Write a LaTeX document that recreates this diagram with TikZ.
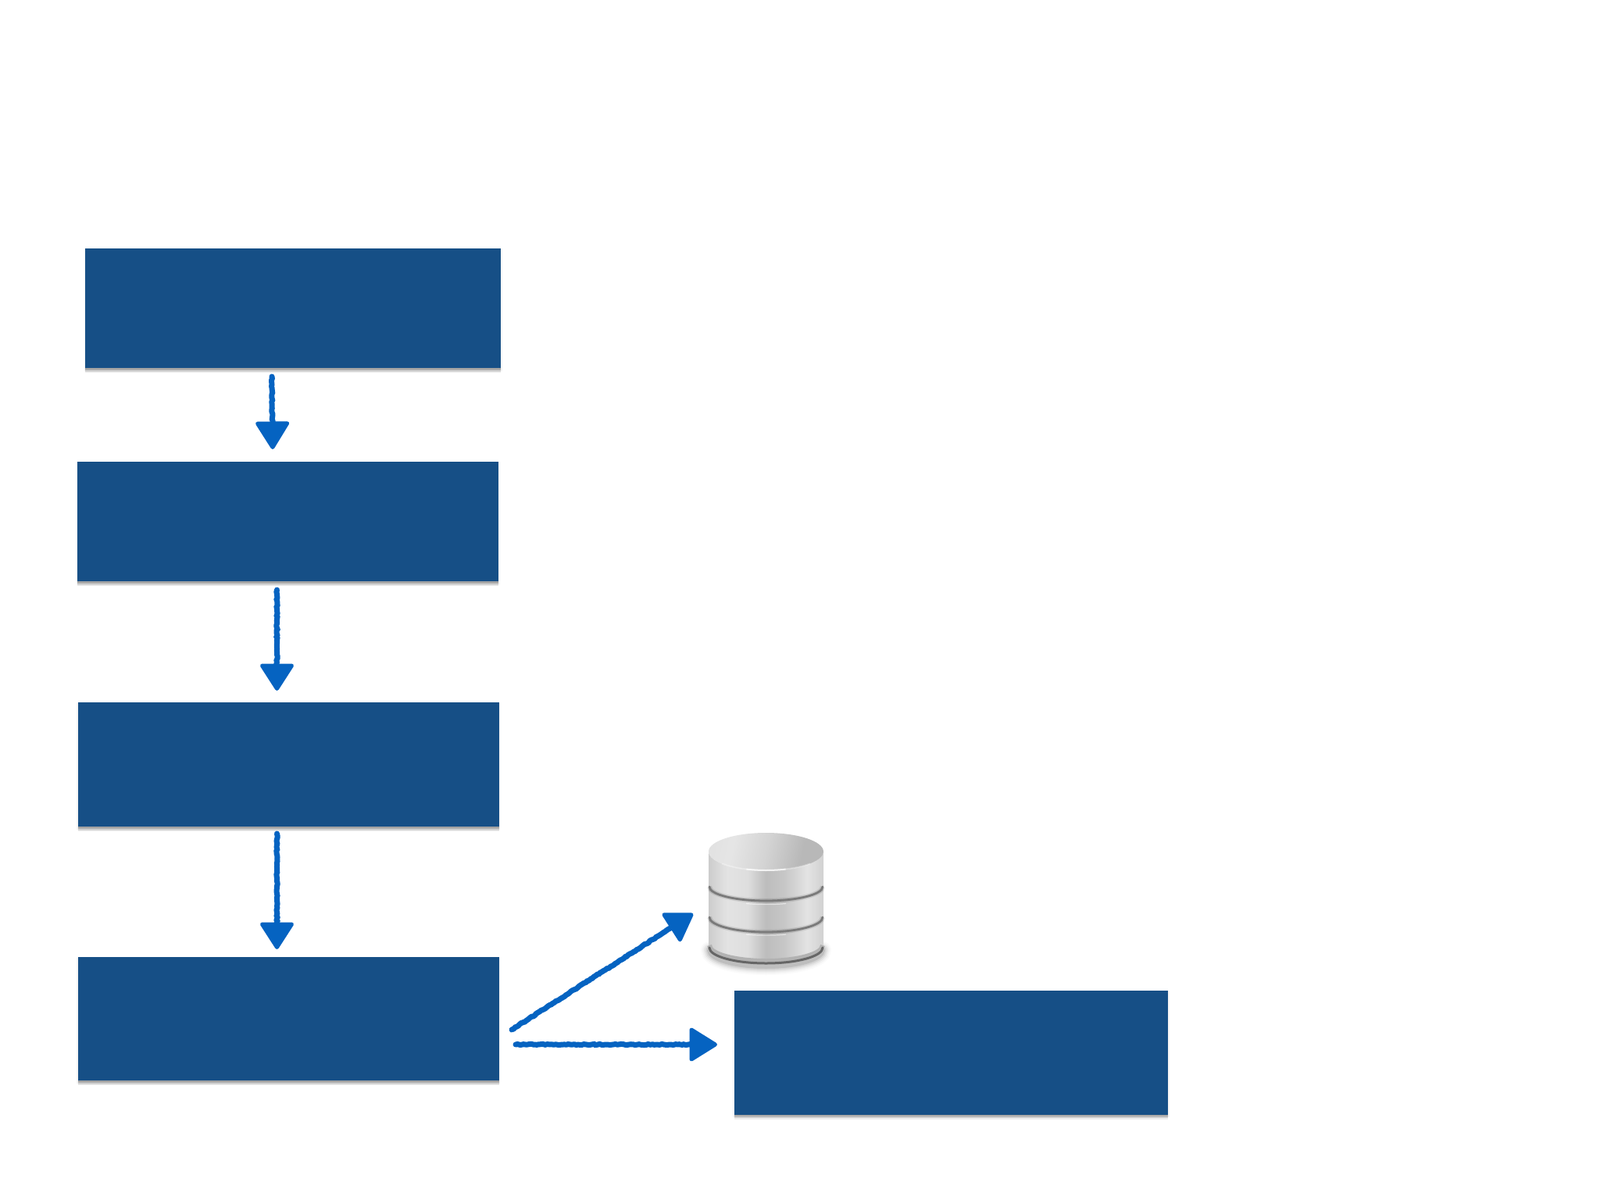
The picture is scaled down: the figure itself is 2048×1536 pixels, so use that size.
\documentclass[tikz,border=0pt]{standalone}
\usetikzlibrary{calc,decorations.pathmorphing,decorations.markings}
\definecolor{boxblue}{HTML}{164F86}
\definecolor{inkblue}{HTML}{0563C1}
\pgfdeclarehorizontalshading{cylbody}{100bp}{
  color(0bp)=(black!20); color(25bp)=(black!20); color(33bp)=(black!11); color(42bp)=(black!13);
  color(50bp)=(black!26); color(58bp)=(black!22); color(68bp)=(black!11); color(75bp)=(black!18); color(100bp)=(black!18)}
\pgfdeclarehorizontalshading{cyltop}{100bp}{
  color(0bp)=(black!15); color(33bp)=(black!10); color(50bp)=(black!17); color(68bp)=(black!28); color(100bp)=(black!28)}
\tikzset{
  x=1pt,y=-1pt,
  flowbox/.style={rectangle,fill=boxblue,draw=none,inner sep=0pt,outer sep=0pt,
    preaction={draw=black,draw opacity=.04,line width=3pt,transform canvas={yshift=-2pt}},
    preaction={fill=black,fill opacity=.07,transform canvas={yshift=-6pt}},
    preaction={fill=black,fill opacity=.09,transform canvas={yshift=-4.5pt}},
    preaction={fill=black,fill opacity=.11,transform canvas={yshift=-3pt}},
    preaction={fill=black,fill opacity=.13,transform canvas={yshift=-1.5pt}}},
  shaft/.style={draw=inkblue,line width=7pt,line cap=round,decorate,
    decoration={random steps,segment length=2.5pt,amplitude=.6pt}},
  headfill/.style={fill=inkblue,draw=inkblue,line width=5pt,line join=round},
  headmark/.style={decorate,decoration={markings,mark=at position 1 with {
    \fill[headfill] (-3.5pt,0pt) -- (-#1,-19pt) -- (-#1,19pt) -- cycle;}}},
  band/.style={draw=#1,line cap=round}
}
\newcommand{\sketcharrow}[3]{%
  \draw[shaft] (#1) -- ($(#2)!14pt!(#1)$);
  \path[headmark=#3] (#1) -- (#2);}
\begin{document}
\begin{tikzpicture}
\useasboundingbox (0,0) rectangle (2048,1536);
\fill[white] (0,0) rectangle (2048,1536);
% boxes
\node[flowbox,minimum width=532pt,minimum height=153.5pt] (b1) at (375,394.5) {};
\node[flowbox,minimum width=539pt,minimum height=153.5pt] (b2) at (368.5,667.5) {};
\node[flowbox,minimum width=539pt,minimum height=159pt] (b3) at (369,978.5) {};
\node[flowbox,minimum width=539pt,minimum height=158pt] (b4) at (369,1304) {};
\node[flowbox,minimum width=555.5pt,minimum height=159pt] (b5) at (1217.25,1347) {};
% database cylinder
\coordinate (db) at (980.5,1090);
\begin{scope}
  \foreach \w/\o in {22/.02,18/.03,14/.05,10/.07,6/.10}{
    \draw[draw=black,draw opacity=\o,line width=\w pt,line cap=round] (908,1216) arc[start angle=180,end angle=0,x radius=72.5,y radius=21];
  }
  \shade[shading=cylbody] (907,1090) -- (907,1212) arc[start angle=180,end angle=0,x radius=73.5,y radius=20]
     -- (1054,1090) arc[start angle=0,end angle=180,x radius=73.5,y radius=24] -- cycle;
  \draw[draw=black!30,line width=6pt] (908,1210) arc[start angle=180,end angle=0,x radius=72.5,y radius=20];
  \draw[draw=black!60,line width=3pt,line cap=round] (908,1213) arc[start angle=180,end angle=0,x radius=72.5,y radius=20];
  \shade[shading=cyltop,shading angle=-12] (db) ellipse[x radius=73.5,y radius=24];
  \draw[draw=white,line width=2pt,opacity=.3] (db) ++(140:73.5 and 24) arc[start angle=140,end angle=40,x radius=73.5,y radius=24];
  \draw[draw=white,line width=2pt,opacity=.7] (db) ++(110:73.5 and 24) arc[start angle=110,end angle=70,x radius=73.5,y radius=24];
  \foreach \yy/\rr in {1135/18,1174/19}{
    \draw[draw=black,draw opacity=.10,line width=6pt] (908,\yy) arc[start angle=180,end angle=0,x radius=72.5,y radius=\rr];
    \draw[band=black!52,line width=2.8pt] (908,\yy) arc[start angle=180,end angle=0,x radius=72.5,y radius=\rr];
  }
  \draw[draw=white,line width=1.2pt,opacity=.55] (955,1156.5) .. controls (970,1158) and (992,1158) .. (1006,1156.5);
  \draw[draw=white,line width=1.2pt,opacity=.55] (955,1196) .. controls (970,1197.5) and (992,1197.5) .. (1006,1196);
\end{scope}
% connectors
\coordinate (a1s) at (348,482); \coordinate (a1e) at (349,576);
\coordinate (a2s) at (354.5,755); \coordinate (a2e) at (354.5,885);
\coordinate (a3s) at (354.5,1067); \coordinate (a3e) at (354.5,1216);
\coordinate (a4s) at (655,1318); \coordinate (a4e) at (888,1169);
\coordinate (a5s) at (660,1337); \coordinate (a5e) at (919,1337);
\sketcharrow{a1s}{a1e}{34pt}
\sketcharrow{a2s}{a2e}{33pt}
\sketcharrow{a3s}{a3e}{33pt}
\sketcharrow{a4s}{a4e}{33pt}
\sketcharrow{a5s}{a5e}{34pt}
\end{tikzpicture}
\end{document}
